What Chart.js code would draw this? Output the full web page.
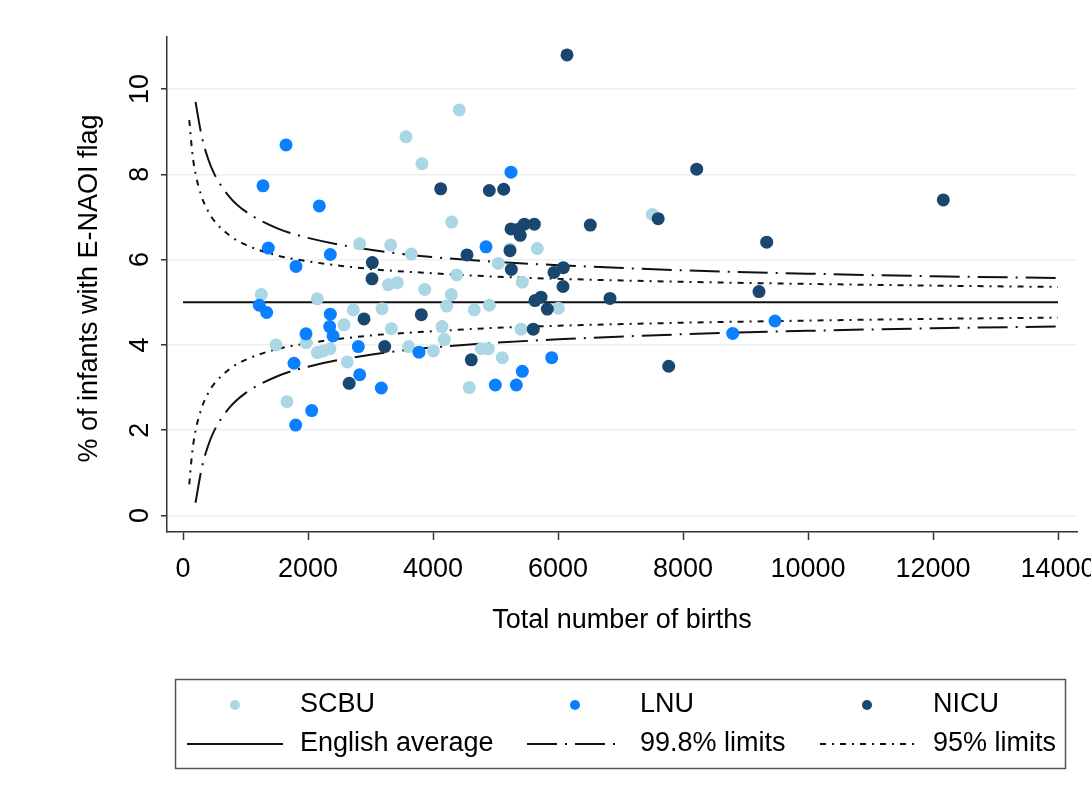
<!DOCTYPE html>
<html>
<head>
<meta charset="utf-8">
<title>E-NAOI funnel plot</title>
<script src="https://cdn.jsdelivr.net/npm/chart.js@4.4.1/dist/chart.umd.min.js"></script>
<style>
  html, body { margin: 0; padding: 0; background: #fff; }
</style>
</head>
<body>
<canvas id="funnelChart" width="1091" height="798"></canvas>
<script>
// births and % flagged for each unit type
const scbuBirths = [3568, 3824, 4299, 4420, 2827, 3323, 3653, 3285, 3429, 3867, 4293, 4379, 1253, 2149,
    2725, 3184, 4219, 2576, 3333, 1488, 1968, 2245, 2352, 2150, 3611, 4005, 4144, 4181, 2627, 1664,
    5045, 5669, 5429, 4661, 4901, 6005, 5408, 4773, 4885, 5109, 4581, 7509, 5232];
const scbuPct = [8.88, 8.25, 6.88, 9.51, 6.37, 6.34, 6.13, 5.41, 5.46, 5.30, 5.18, 5.64, 5.18, 5.08,
    4.82, 4.85, 4.91, 4.47, 4.38, 4.00, 4.05, 3.86, 3.91, 3.82, 3.96, 3.86, 4.43, 4.13, 3.60, 2.67,
    5.91, 6.26, 5.47, 4.82, 4.93, 4.86, 4.37, 3.91, 3.91, 3.70, 3.00, 7.06, 6.25];

const lnuBirths = [1648, 1280, 2181, 1365, 2357, 1808, 1221, 1339, 2357, 2347, 1968, 2400, 2805, 3776,
    1776, 2827, 3173, 2059, 1803, 5248, 4848, 5899, 5429, 4997, 5333, 8795, 9472];
const lnuPct = [8.69, 7.73, 7.26, 6.27, 6.12, 5.84, 4.93, 4.76, 4.72, 4.43, 4.26, 4.21, 3.96, 3.83,
    3.57, 3.30, 2.99, 2.46, 2.12, 8.05, 6.30, 3.70, 3.38, 3.06, 3.06, 4.27, 4.56];

const nicuBirths = [4123, 3029, 3024, 2896, 3813, 2659, 3227, 4901, 5131, 8219, 7603, 6517, 5248, 5376,
    5461, 5621, 5395, 5232, 4544, 5253, 5936, 6085, 6080, 5632, 5728, 5829, 6832, 5605, 4613, 7771,
    12165, 9339, 9216, 6144];
const nicuPct = [7.66, 5.93, 5.55, 4.61, 4.71, 3.10, 3.96, 7.62, 7.65, 8.12, 6.96, 6.81, 6.72, 6.72,
    6.83, 6.83, 6.57, 6.21, 6.11, 5.77, 5.70, 5.81, 5.37, 5.04, 5.12, 4.84, 5.09, 4.37, 3.65, 3.50,
    7.40, 6.41, 5.25, 10.80];

// national average and control limits
const avgBirths = [0, 14000];
const avgPct = [5, 5];

const limBirths998 = [200, 300, 400, 500, 750, 1000, 1500, 2000, 3000, 4000, 5000, 6000, 8000, 10000, 12000, 14000];
const upper998 = [9.70, 8.89, 8.37, 8.01, 7.46, 7.13, 6.74, 6.51, 6.23, 6.06, 5.95, 5.87, 5.75, 5.67, 5.61, 5.57];
const lower998 = [0.30, 1.11, 1.63, 1.99, 2.54, 2.87, 3.26, 3.49, 3.77, 3.94, 4.05, 4.13, 4.25, 4.33, 4.39, 4.43];

const limBirths95 = [100, 150, 200, 300, 400, 500, 750, 1000, 1500, 2000, 3000, 4000, 5000, 6000, 8000, 10000, 12000, 14000];
const upper95 = [9.27, 8.49, 8.02, 7.47, 7.14, 6.91, 6.56, 6.35, 6.10, 5.96, 5.78, 5.68, 5.60, 5.55, 5.48, 5.43, 5.39, 5.36];
const lower95 = [0.73, 1.51, 1.98, 2.53, 2.86, 3.09, 3.44, 3.65, 3.90, 4.04, 4.22, 4.32, 4.40, 4.45, 4.52, 4.57, 4.61, 4.64];

const xTicks = [0, 2000, 4000, 6000, 8000, 10000, 12000, 14000];
const yTicks = [0, 2, 4, 6, 8, 10];

const FONT = '"Liberation Sans", Arial, sans-serif';
const FS = 27;

const pts = (xs, ys) => xs.map((v, i) => ({ x: v, y: ys[i] }));

const DASH_998 = [30, 8, 2, 8];
const DASH_95 = [6, 6, 2, 6];

function markerSet(label, xs, ys, color) {
    return {
        label: label,
        data: pts(xs, ys),
        backgroundColor: color,
        borderWidth: 0,
        pointRadius: 6.5,
        pointHoverRadius: 6.5,
        showLine: false
    };
}

function lineSet(label, xs, ys, dash) {
    return {
        label: label,
        data: pts(xs, ys),
        borderColor: '#111',
        borderWidth: 2,
        borderDash: dash,
        pointRadius: 0,
        showLine: true,
        cubicInterpolationMode: 'monotone',
        fill: false
    };
}

// first entry is painted last, so markers sit over the lines
const datasets = [
    markerSet('NICU', nicuBirths, nicuPct, '#1a476f'),
    markerSet('LNU', lnuBirths, lnuPct, '#0a7fff'),
    markerSet('SCBU', scbuBirths, scbuPct, '#abd6e4'),
    lineSet('English average', avgBirths, avgPct, []),
    lineSet('99.8% limits', limBirths998, upper998, DASH_998),
    lineSet('99.8% limits lower', limBirths998, lower998, DASH_998),
    lineSet('95% limits', limBirths95, upper95, DASH_95),
    lineSet('95% limits lower', limBirths95, lower95, DASH_95)
];

// rotated y labels, axis titles and the boxed two-row legend
const stataText = {
    id: 'stataText',
    afterDraw(chart) {
        const { ctx, scales: { x, y }, chartArea } = chart;
        ctx.save();
        ctx.fillStyle = '#000';
        ctx.font = FS + 'px ' + FONT;
        ctx.textAlign = 'center';
        ctx.textBaseline = 'middle';

        yTicks.forEach(v => {
            ctx.save();
            ctx.translate(141, y.getPixelForValue(v));
            ctx.rotate(-Math.PI / 2);
            ctx.fillText(String(v), 0, 0);
            ctx.restore();
        });

        ctx.save();
        ctx.translate(90, (chartArea.top + chartArea.bottom) / 2 + 4);
        ctx.rotate(-Math.PI / 2);
        ctx.fillText('% of infants with E-NAOI flag', 0, 0);
        ctx.restore();

        ctx.fillText('Total number of births', (chartArea.left + chartArea.right) / 2, 621);

        // legend
        ctx.strokeStyle = '#555';
        ctx.lineWidth = 1.5;
        ctx.strokeRect(175.5, 679.5, 890, 89);

        const ds = chart.data.datasets;
        const byLabel = l => ds.find(d => d.label === l);
        const cols = [
            { key: 235, text: 300 },
            { key: 575, text: 640 },
            { key: 867, text: 933 }
        ];
        const rows = [
            ['SCBU', 'LNU', 'NICU'],
            ['English average', '99.8% limits', '95% limits']
        ];
        const rowY = [705, 744];

        ctx.textAlign = 'left';
        rows[0].forEach((lab, i) => {
            const d = byLabel(lab);
            ctx.beginPath();
            ctx.fillStyle = d.backgroundColor;
            ctx.arc(cols[i].key, rowY[0], 5, 0, Math.PI * 2);
            ctx.fill();
            ctx.fillStyle = '#000';
            ctx.fillText(lab, cols[i].text, rowY[0]);
        });
        const keyHalf = [48, 48, 47];
        rows[1].forEach((lab, i) => {
            const d = byLabel(lab);
            ctx.beginPath();
            ctx.strokeStyle = d.borderColor;
            ctx.lineWidth = 2;
            ctx.setLineDash(d.borderDash);
            ctx.moveTo(cols[i].key - keyHalf[i], rowY[1]);
            ctx.lineTo(cols[i].key + keyHalf[i], rowY[1]);
            ctx.stroke();
            ctx.setLineDash([]);
            ctx.fillStyle = '#000';
            ctx.fillText(lab, cols[i].text, rowY[1]);
        });
        ctx.restore();
    }
};

new Chart(document.getElementById('funnelChart'), {
    type: 'scatter',
    data: { datasets: datasets },
    plugins: [stataText],
    options: {
        responsive: false,
        animation: false,
        layout: { padding: { left: 0, top: 37, right: 14, bottom: 0 } },
        plugins: {
            legend: { display: false },
            tooltip: { enabled: false }
        },
        scales: {
            x: {
                type: 'linear',
                min: -256,
                max: 14304,
                afterBuildTicks: s => { s.ticks = xTicks.map(v => ({ value: v })); },
                // let the last label run off the right edge instead of shrinking the plot
                afterFit: s => { s.height = 798 - 532; s.paddingLeft = 0; s.paddingRight = 0; },
                ticks: {
                    font: { family: FONT, size: FS },
                    color: '#000',
                    padding: 13,
                    maxRotation: 0,
                    autoSkip: false,
                    callback: v => String(v)
                },
                grid: { drawOnChartArea: false, drawTicks: true, tickLength: 8, tickColor: '#333', tickWidth: 1.5 },
                border: { display: true, color: '#333', width: 1.5 }
            },
            y: {
                type: 'linear',
                min: -0.387,
                max: 11.22,
                afterBuildTicks: s => { s.ticks = yTicks.map(v => ({ value: v })); },
                afterFit: s => { s.width = 167; s.paddingTop = 0; s.paddingBottom = 0; },
                ticks: { display: false },
                grid: { color: '#e9f1f3', lineWidth: 1.5, drawTicks: true, tickLength: 6, tickColor: '#333', tickWidth: 1.5 },
                border: { display: true, color: '#333', width: 1.5 }
            }
        }
    }
});
</script>
</body>
</html>
